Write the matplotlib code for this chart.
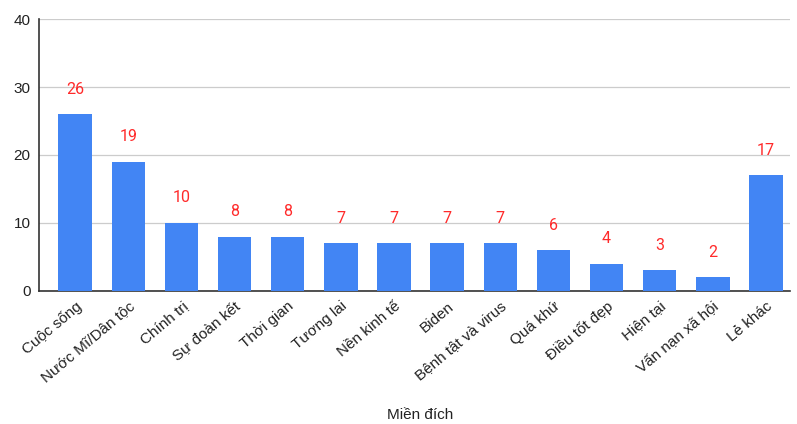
import matplotlib.pyplot as plt

categories = ["Cuộc sống", "Nước Mĩ/Dân tộc", "Chính trị", "Sự đoàn kết",
              "Thời gian", "Tương lai", "Nền kinh tế", "Biden",
              "Bệnh tật và virus", "Quá khứ", "Điều tốt đẹp", "Hiện tại",
              "Vấn nạn xã hội", "Lẻ khác"]
counts = [26, 19, 10, 8, 8, 7, 7, 7, 7, 6, 4, 3, 2, 17]
yticks = [0, 10, 20, 30, 40]

plt.rcParams["font.family"] = ["Liberation Sans", "DejaVu Sans"]

fig = plt.figure(figsize=(7.97, 4.24), dpi=100)
ax = fig.add_axes([0.049, 0.314, 0.942, 0.641])

x = range(len(categories))
ax.bar(x, counts, width=0.63, color="#4285F4", zorder=3)
for xi, v in zip(x, counts):
    ax.annotate(str(v), (xi, v), xytext=(0, 18), textcoords="offset points",
                ha="center", va="center", color="#FF2A2A", fontsize=11.5,
                family=["Roboto", "DejaVu Sans"])

ax.set_ylim(0, 40)
ax.set_xlim(-0.68, 13.45)
ax.set_yticks(yticks)
ax.tick_params(axis="y", length=0, labelsize=11, colors="#222222", pad=6)
ax.set_xticks(list(x))
ax.set_xticklabels(categories, rotation=40, ha="right", rotation_mode="anchor",
                   fontsize=11, color="#222222")
ax.tick_params(axis="x", length=0, pad=6)
ax.grid(axis="y", color="#CCCCCC", linewidth=0.9, zorder=0)
for s in ["top", "right"]:
    ax.spines[s].set_visible(False)
ax.spines["left"].set_color("#333333")
ax.spines["bottom"].set_color("#333333")
ax.spines["left"].set_linewidth(1.2)
ax.spines["bottom"].set_linewidth(1.2)

fig.text(0.527, 0.005, "Miền đích", ha="center", va="bottom", fontsize=11,
         color="#222222")

fig.savefig("out.png", dpi=100)
